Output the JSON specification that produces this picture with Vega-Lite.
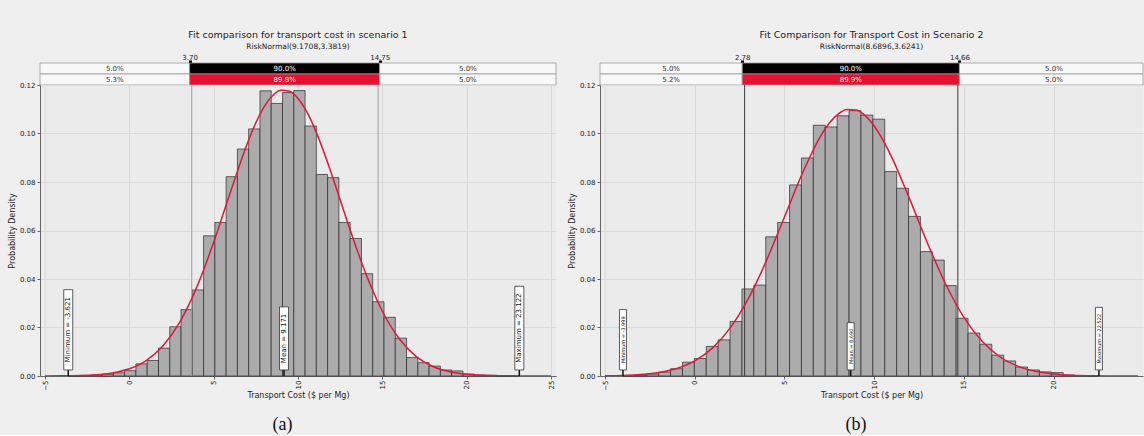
{
  "$schema": "https://vega.github.io/schema/vega-lite/v6.json",
  "background": "#efefef",
  "padding": {"top": 30, "left": 8, "right": 0, "bottom": 0},
  "datasets": {
    "binsA": [
      {"lo": -3.621, "hi": -2.952, "d": 0.0001}, {"lo": -2.952, "hi": -2.284, "d": 0.0002},
      {"lo": -2.284, "hi": -1.615, "d": 0.0004}, {"lo": -1.615, "hi": -0.947, "d": 0.0008},
      {"lo": -0.947, "hi": -0.278, "d": 0.0013}, {"lo": -0.278, "hi": 0.390, "d": 0.0022},
      {"lo": 0.390, "hi": 1.059, "d": 0.0050}, {"lo": 1.059, "hi": 1.728, "d": 0.0064},
      {"lo": 1.728, "hi": 2.396, "d": 0.0115}, {"lo": 2.396, "hi": 3.065, "d": 0.0203},
      {"lo": 3.065, "hi": 3.733, "d": 0.0274}, {"lo": 3.733, "hi": 4.402, "d": 0.0355},
      {"lo": 4.402, "hi": 5.070, "d": 0.0578}, {"lo": 5.070, "hi": 5.739, "d": 0.0633},
      {"lo": 5.739, "hi": 6.408, "d": 0.0822}, {"lo": 6.408, "hi": 7.076, "d": 0.0936},
      {"lo": 7.076, "hi": 7.745, "d": 0.1019}, {"lo": 7.745, "hi": 8.413, "d": 0.1176},
      {"lo": 8.413, "hi": 9.082, "d": 0.1124}, {"lo": 9.082, "hi": 9.750, "d": 0.1169},
      {"lo": 9.750, "hi": 10.419, "d": 0.1177}, {"lo": 10.419, "hi": 11.088, "d": 0.1031},
      {"lo": 11.088, "hi": 11.756, "d": 0.0831}, {"lo": 11.756, "hi": 12.425, "d": 0.0818},
      {"lo": 12.425, "hi": 13.093, "d": 0.0633}, {"lo": 13.093, "hi": 13.762, "d": 0.0567},
      {"lo": 13.762, "hi": 14.430, "d": 0.0422}, {"lo": 14.430, "hi": 15.099, "d": 0.0306},
      {"lo": 15.099, "hi": 15.768, "d": 0.0242}, {"lo": 15.768, "hi": 16.436, "d": 0.0156},
      {"lo": 16.436, "hi": 17.105, "d": 0.0076}, {"lo": 17.105, "hi": 17.773, "d": 0.0055},
      {"lo": 17.773, "hi": 18.442, "d": 0.0041}, {"lo": 18.442, "hi": 19.110, "d": 0.0025},
      {"lo": 19.110, "hi": 19.779, "d": 0.0021}, {"lo": 19.779, "hi": 20.448, "d": 0.0008},
      {"lo": 20.448, "hi": 21.116, "d": 0.0004}, {"lo": 21.116, "hi": 21.785, "d": 0.0003},
      {"lo": 21.785, "hi": 22.453, "d": 0.0001}, {"lo": 22.453, "hi": 23.122, "d": 0.0001}
    ],
    "binsB": [
      {"lo": -3.999, "hi": -3.336, "d": 0.0001}, {"lo": -3.336, "hi": -2.673, "d": 0.0003},
      {"lo": -2.673, "hi": -2.010, "d": 0.0008}, {"lo": -2.010, "hi": -1.347, "d": 0.0016},
      {"lo": -1.347, "hi": -0.684, "d": 0.0030}, {"lo": -0.684, "hi": -0.021, "d": 0.0057},
      {"lo": -0.021, "hi": 0.642, "d": 0.0072}, {"lo": 0.642, "hi": 1.305, "d": 0.0122},
      {"lo": 1.305, "hi": 1.968, "d": 0.0149}, {"lo": 1.968, "hi": 2.631, "d": 0.0225},
      {"lo": 2.631, "hi": 3.294, "d": 0.0359}, {"lo": 3.294, "hi": 3.957, "d": 0.0375},
      {"lo": 3.957, "hi": 4.620, "d": 0.0574}, {"lo": 4.620, "hi": 5.283, "d": 0.0633},
      {"lo": 5.283, "hi": 5.946, "d": 0.0788}, {"lo": 5.946, "hi": 6.609, "d": 0.0899},
      {"lo": 6.609, "hi": 7.272, "d": 0.1034}, {"lo": 7.272, "hi": 7.935, "d": 0.1027},
      {"lo": 7.935, "hi": 8.598, "d": 0.1073}, {"lo": 8.598, "hi": 9.262, "d": 0.1094},
      {"lo": 9.262, "hi": 9.925, "d": 0.1076}, {"lo": 9.925, "hi": 10.588, "d": 0.1059},
      {"lo": 10.588, "hi": 11.251, "d": 0.0843}, {"lo": 11.251, "hi": 11.914, "d": 0.0774},
      {"lo": 11.914, "hi": 12.577, "d": 0.0658}, {"lo": 12.577, "hi": 13.240, "d": 0.0513},
      {"lo": 13.240, "hi": 13.903, "d": 0.0478}, {"lo": 13.903, "hi": 14.566, "d": 0.0373},
      {"lo": 14.566, "hi": 15.229, "d": 0.0238}, {"lo": 15.229, "hi": 15.892, "d": 0.0177},
      {"lo": 15.892, "hi": 16.555, "d": 0.0131}, {"lo": 16.555, "hi": 17.218, "d": 0.0086},
      {"lo": 17.218, "hi": 17.881, "d": 0.0062}, {"lo": 17.881, "hi": 18.544, "d": 0.0037},
      {"lo": 18.544, "hi": 19.207, "d": 0.0025}, {"lo": 19.207, "hi": 19.870, "d": 0.0017},
      {"lo": 19.870, "hi": 20.533, "d": 0.0014}, {"lo": 20.533, "hi": 21.196, "d": 0.0004},
      {"lo": 21.196, "hi": 21.859, "d": 0.0002}, {"lo": 21.859, "hi": 22.522, "d": 0.0001}
    ],
    "curveA": [
      {"x": -5, "p": 0.00002}, {"x": -4, "p": 0.00006}, {"x": -3, "p": 0.00018}, {"x": -2, "p": 0.0005},
      {"x": -1, "p": 0.00128}, {"x": 0, "p": 0.00299}, {"x": 1, "p": 0.00637}, {"x": 2, "p": 0.01246},
      {"x": 3, "p": 0.02232}, {"x": 4, "p": 0.03665}, {"x": 5, "p": 0.05514}, {"x": 6, "p": 0.07601},
      {"x": 7, "p": 0.096}, {"x": 7.5, "p": 0.10441}, {"x": 8, "p": 0.1111}, {"x": 8.5, "p": 0.11566},
      {"x": 9, "p": 0.11781}, {"x": 9.5, "p": 0.1174}, {"x": 10, "p": 0.11447}, {"x": 10.5, "p": 0.10919},
      {"x": 11, "p": 0.10191}, {"x": 12, "p": 0.08313}, {"x": 13, "p": 0.06214}, {"x": 14, "p": 0.04255},
      {"x": 15, "p": 0.02671}, {"x": 16, "p": 0.01536}, {"x": 17, "p": 0.00809}, {"x": 18, "p": 0.00391},
      {"x": 19, "p": 0.00173}, {"x": 20, "p": 0.0007}, {"x": 21, "p": 0.00026}, {"x": 22, "p": 0.00009},
      {"x": 23, "p": 0.00003}, {"x": 24, "p": 0.00001}, {"x": 25, "p": 0.000002}
    ],
    "curveB": [
      {"x": -5, "p": 0.00009}, {"x": -4, "p": 0.00024}, {"x": -3, "p": 0.00061}, {"x": -2, "p": 0.00142},
      {"x": -1, "p": 0.00309}, {"x": 0, "p": 0.00621}, {"x": 1, "p": 0.01159}, {"x": 2, "p": 0.02004},
      {"x": 3, "p": 0.0321}, {"x": 4, "p": 0.04766}, {"x": 5, "p": 0.06557}, {"x": 6, "p": 0.08358},
      {"x": 7, "p": 0.09874}, {"x": 7.5, "p": 0.10431}, {"x": 8, "p": 0.10811}, {"x": 8.5, "p": 0.10993},
      {"x": 9, "p": 0.10968}, {"x": 9.5, "p": 0.10736}, {"x": 10, "p": 0.10311}, {"x": 10.5, "p": 0.09717},
      {"x": 11, "p": 0.08984}, {"x": 12, "p": 0.07253}, {"x": 13, "p": 0.05426}, {"x": 14, "p": 0.03762},
      {"x": 15, "p": 0.02417}, {"x": 16, "p": 0.01439}, {"x": 17, "p": 0.00794}, {"x": 18, "p": 0.00406},
      {"x": 19, "p": 0.00192}, {"x": 20, "p": 0.00085}, {"x": 21, "p": 0.00034}, {"x": 22, "p": 0.00013},
      {"x": 23, "p": 0.00005}, {"x": 24, "p": 0.000015}, {"x": 24.7, "p": 0.000007}
    ],
    "bandsA": [
      {"row": "r1", "start": -5, "end": 3.7, "mid": -0.65, "kind": "tail", "label": "5.0%"},
      {"row": "r1", "start": 3.7, "end": 14.75, "mid": 9.225, "kind": "theory", "label": "90.0%"},
      {"row": "r1", "start": 14.75, "end": 25, "mid": 19.875, "kind": "tail", "label": "5.0%"},
      {"row": "r2", "start": -5, "end": 3.7, "mid": -0.65, "kind": "tail", "label": "5.3%"},
      {"row": "r2", "start": 3.7, "end": 14.75, "mid": 9.225, "kind": "sim", "label": "89.8%"},
      {"row": "r2", "start": 14.75, "end": 25, "mid": 19.875, "kind": "tail", "label": "5.0%"}
    ],
    "bandsB": [
      {"row": "r1", "start": -5, "end": 2.78, "mid": -1.11, "kind": "tail", "label": "5.0%"},
      {"row": "r1", "start": 2.78, "end": 14.66, "mid": 8.72, "kind": "theory", "label": "90.0%"},
      {"row": "r1", "start": 14.66, "end": 24.7, "mid": 19.83, "kind": "tail", "label": "5.0%"},
      {"row": "r2", "start": -5, "end": 2.78, "mid": -1.11, "kind": "tail", "label": "5.2%"},
      {"row": "r2", "start": 2.78, "end": 14.66, "mid": 8.72, "kind": "sim", "label": "89.9%"},
      {"row": "r2", "start": 14.66, "end": 24.7, "mid": 19.83, "kind": "tail", "label": "5.0%"}
    ],
    "pctA": [{"x": 3.7}, {"x": 14.75}],
    "pctB": [{"x": 2.78}, {"x": 14.66}],
    "markA": [
      {"x": -3.621, "bot": 0.0025, "top": 0.0356, "mid": 0.01905, "label": "Minimum = -3.621"},
      {"x": 9.171, "bot": 0.0025, "top": 0.0285, "mid": 0.0155, "label": "Mean = 9.171"},
      {"x": 23.122, "bot": 0.0025, "top": 0.037, "mid": 0.01975, "label": "Maximum = 23.122"}
    ],
    "markB": [
      {"x": -3.999, "bot": 0.0025, "top": 0.0274, "mid": 0.01495, "label": "Minimum = -3.999"},
      {"x": 8.69, "bot": 0.0025, "top": 0.022, "mid": 0.01225, "label": "Mean = 8.690"},
      {"x": 22.522, "bot": 0.0025, "top": 0.0283, "mid": 0.0154, "label": "Maximum = 22.522"}
    ]
  },
  "hconcat": [
    {
      "title": {"text": "(a)", "orient": "bottom", "anchor": "middle", "font": "Liberation Serif", "fontSize": 18, "fontWeight": "normal", "color": "#111", "offset": 17},
      "spacing": 0,
      "bounds": "flush",
      "vconcat": [
        {
          "width": 516,
          "height": 22,
          "title": {"text": "Fit comparison for transport cost in scenario 1", "subtitle": "RiskNormal(9.1708,3.3819)", "fontSize": 9.5, "subtitleFontSize": 7.5, "subtitlePadding": 3, "offset": 3},
          "data": {"name": "bandsA"},
          "layer": [
            {"mark": {"type": "rect", "stroke": "#9a9a9a", "strokeWidth": 0.8},
             "encoding": {
               "x": {"field": "start", "type": "quantitative", "scale": {"domain": [-5, 25], "nice": false, "zero": false},
                 "axis": {"orient": "top", "values": [3.7, 14.75], "format": ".2f", "grid": false, "domain": false, "tickColor": "#000", "tickSize": 3, "tickWidth": 3, "labelFontSize": 7, "labelPadding": 0, "labelFlush": false, "title": null}},
               "x2": {"field": "end"},
               "y": {"field": "row", "type": "nominal", "axis": null, "scale": {"paddingInner": 0, "paddingOuter": 0}},
               "color": {"field": "kind", "type": "nominal", "scale": {"domain": ["tail", "theory", "sim"], "range": ["#f8f8f8", "#000000", "#e8102e"]}, "legend": null}}},
            {"mark": {"type": "text", "fontSize": 7, "baseline": "middle"},
             "encoding": {
               "x": {"field": "mid", "type": "quantitative"},
               "y": {"field": "row", "type": "nominal"},
               "text": {"field": "label"},
               "color": {"condition": {"test": "datum.kind !== 'tail'", "value": "#ffffff"}, "value": "#333333"}}}
          ]
        },
        {
          "width": 516,
          "height": 291,
          "layer": [
            {"data": {"name": "binsA"}, "mark": {"type": "rect", "fill": "#ababab", "stroke": "#2a2a2a", "strokeWidth": 0.7},
             "encoding": {
               "x": {"field": "lo", "type": "quantitative", "scale": {"domain": [-5, 25], "nice": false, "zero": false},
                 "axis": {"values": [-5, 0, 5, 10, 15, 20, 25], "labelAngle": 270, "labelFlush": false, "title": "Transport Cost ($ per Mg)", "tickSize": 3, "titlePadding": 1, "labelPadding": 1}},
               "x2": {"field": "hi"},
               "y": {"field": "d", "type": "quantitative", "scale": {"domain": [0, 0.12], "nice": false},
                 "axis": {"values": [0, 0.02, 0.04, 0.06, 0.08, 0.1, 0.12], "format": ".2f", "title": "Probability Density", "tickSize": 3}},
               "y2": {"datum": 0}}},
            {"data": {"name": "pctA"}, "mark": {"type": "rule", "color": "#a0a0a0", "strokeWidth": 1}, "encoding": {"x": {"field": "x", "type": "quantitative"}}},
            {"data": {"name": "curveA"}, "mark": {"type": "line", "color": "#e0163c", "strokeWidth": 1.5, "interpolate": "monotone", "clip": true},
             "encoding": {"x": {"field": "x", "type": "quantitative"}, "y": {"field": "p", "type": "quantitative"}}},
            {"data": {"name": "markA"}, "mark": {"type": "bar", "width": 1.5, "color": "#111"},
             "encoding": {"x": {"field": "x", "type": "quantitative"}, "y": {"field": "bot", "type": "quantitative"}}},
            {"data": {"name": "markA"}, "mark": {"type": "bar", "width": 9, "fill": "#ffffff", "stroke": "#333", "strokeWidth": 0.8},
             "encoding": {"x": {"field": "x", "type": "quantitative"}, "y": {"field": "bot", "type": "quantitative"}, "y2": {"field": "top"}}},
            {"data": {"name": "markA"}, "mark": {"type": "text", "angle": 270, "fontSize": 7, "color": "#111", "baseline": "middle", "align": "center"},
             "encoding": {"x": {"field": "x", "type": "quantitative"}, "y": {"field": "mid", "type": "quantitative"}, "text": {"field": "label"}}}
          ]
        }
      ]
    },
    {
      "title": {"text": "(b)", "orient": "bottom", "anchor": "middle", "font": "Liberation Serif", "fontSize": 18, "fontWeight": "normal", "color": "#111", "offset": 17},
      "spacing": 0,
      "bounds": "flush",
      "vconcat": [
        {
          "width": 543,
          "height": 22,
          "title": {"text": "Fit Comparison for Transport Cost in Scenario 2", "subtitle": "RiskNormal(8.6896,3.6241)", "fontSize": 9.5, "subtitleFontSize": 7.5, "subtitlePadding": 3, "offset": 3},
          "data": {"name": "bandsB"},
          "layer": [
            {"mark": {"type": "rect", "stroke": "#9a9a9a", "strokeWidth": 0.8},
             "encoding": {
               "x": {"field": "start", "type": "quantitative", "scale": {"domain": [-5, 24.7], "nice": false, "zero": false},
                 "axis": {"orient": "top", "values": [2.78, 14.66], "format": ".2f", "grid": false, "domain": false, "tickColor": "#000", "tickSize": 3, "tickWidth": 3, "labelFontSize": 7, "labelPadding": 0, "labelFlush": false, "title": null}},
               "x2": {"field": "end"},
               "y": {"field": "row", "type": "nominal", "axis": null, "scale": {"paddingInner": 0, "paddingOuter": 0}},
               "color": {"field": "kind", "type": "nominal", "scale": {"domain": ["tail", "theory", "sim"], "range": ["#f8f8f8", "#000000", "#e8102e"]}, "legend": null}}},
            {"mark": {"type": "text", "fontSize": 7, "baseline": "middle"},
             "encoding": {
               "x": {"field": "mid", "type": "quantitative"},
               "y": {"field": "row", "type": "nominal"},
               "text": {"field": "label"},
               "color": {"condition": {"test": "datum.kind !== 'tail'", "value": "#ffffff"}, "value": "#333333"}}}
          ]
        },
        {
          "width": 543,
          "height": 291,
          "layer": [
            {"data": {"name": "binsB"}, "mark": {"type": "rect", "fill": "#ababab", "stroke": "#2a2a2a", "strokeWidth": 0.7},
             "encoding": {
               "x": {"field": "lo", "type": "quantitative", "scale": {"domain": [-5, 24.7], "nice": false, "zero": false},
                 "axis": {"values": [-5, 0, 5, 10, 15, 20], "labelAngle": 270, "labelFlush": false, "title": "Transport Cost ($ per Mg)", "tickSize": 3, "titlePadding": 1, "labelPadding": 1}},
               "x2": {"field": "hi"},
               "y": {"field": "d", "type": "quantitative", "scale": {"domain": [0, 0.12], "nice": false},
                 "axis": {"values": [0, 0.02, 0.04, 0.06, 0.08, 0.1, 0.12], "format": ".2f", "title": "Probability Density", "tickSize": 3}},
               "y2": {"datum": 0}}},
            {"data": {"name": "pctB"}, "mark": {"type": "rule", "color": "#3a3a3a", "strokeWidth": 1}, "encoding": {"x": {"field": "x", "type": "quantitative"}}},
            {"data": {"name": "curveB"}, "mark": {"type": "line", "color": "#e0163c", "strokeWidth": 1.5, "interpolate": "monotone", "clip": true},
             "encoding": {"x": {"field": "x", "type": "quantitative"}, "y": {"field": "p", "type": "quantitative"}}},
            {"data": {"name": "markB"}, "mark": {"type": "bar", "width": 1.5, "color": "#111"},
             "encoding": {"x": {"field": "x", "type": "quantitative"}, "y": {"field": "bot", "type": "quantitative"}}},
            {"data": {"name": "markB"}, "mark": {"type": "bar", "width": 7, "fill": "#ffffff", "stroke": "#333", "strokeWidth": 0.8},
             "encoding": {"x": {"field": "x", "type": "quantitative"}, "y": {"field": "bot", "type": "quantitative"}, "y2": {"field": "top"}}},
            {"data": {"name": "markB"}, "mark": {"type": "text", "angle": 270, "fontSize": 5, "color": "#111", "baseline": "middle", "align": "center"},
             "encoding": {"x": {"field": "x", "type": "quantitative"}, "y": {"field": "mid", "type": "quantitative"}, "text": {"field": "label"}}}
          ]
        }
      ]
    }
  ],
  "spacing": 11,
  "config": {
    "font": "DejaVu Sans",
    "view": {"stroke": null, "fill": "#ebebeb"},
    "title": {"font": "DejaVu Sans", "fontWeight": "normal", "color": "#222", "subtitleFont": "DejaVu Sans", "subtitleColor": "#222"},
    "axis": {"labelFont": "DejaVu Sans", "titleFont": "DejaVu Sans", "labelFontSize": 7, "titleFontSize": 8, "titleFontWeight": "normal",
      "labelColor": "#222", "titleColor": "#222", "gridColor": "#dadada", "tickColor": "#666", "domainColor": "#666", "titlePadding": 3, "labelPadding": 2}
  }
}
